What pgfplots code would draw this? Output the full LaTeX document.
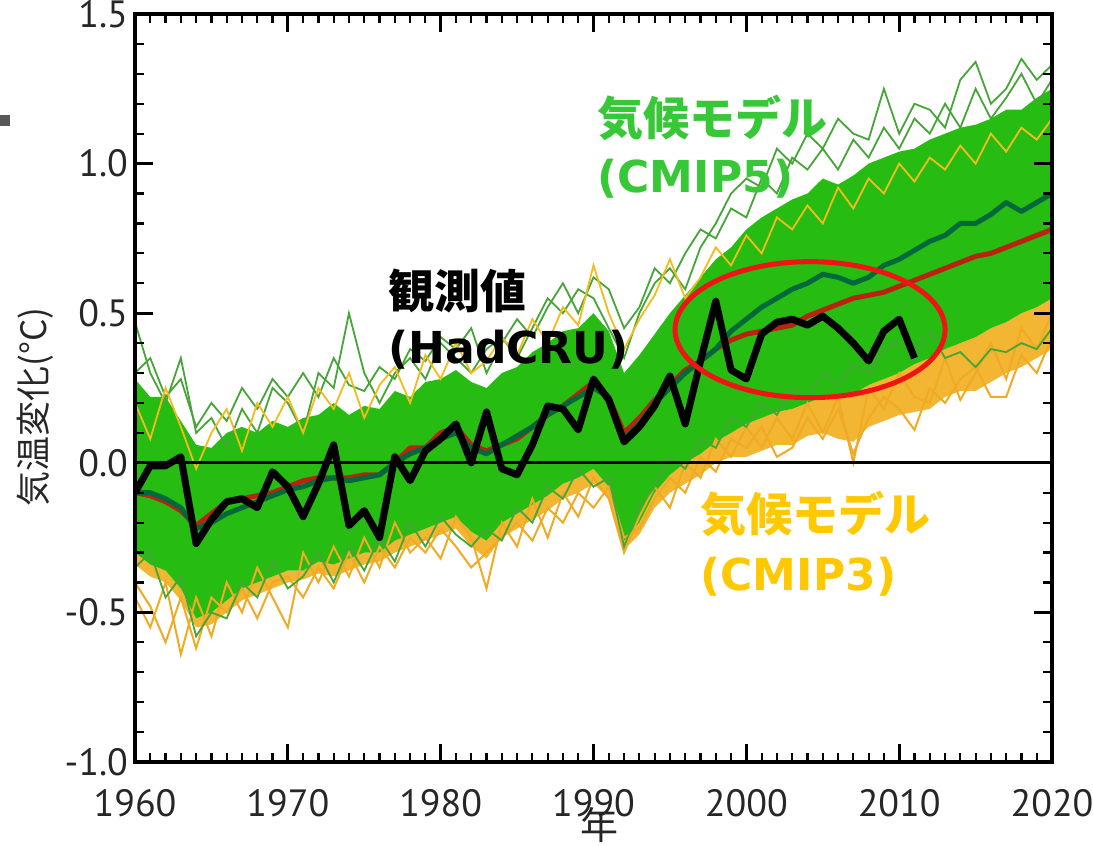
\documentclass[border=0pt]{standalone}
\usepackage{fontspec}
\usepackage{pgfplots}
\usepackage{pgfplotstable}
\pgfplotsset{compat=1.18}
\usepgfplotslibrary{fillbetween}
\newfontfamily\cjk{Noto Sans CJK JP}
\newfontfamily\dvs{DejaVu Sans}
\newfontfamily\ptsans{PT Sans}
\definecolor{bandgreen}{RGB}{38,188,18}
\definecolor{linegreen}{RGB}{70,165,55}
\definecolor{cmiporange}{RGB}{240,170,35}
\definecolor{bandorange}{RGB}{242,182,50}
\definecolor{meangreen}{RGB}{0,105,60}
\definecolor{meanred}{RGB}{185,35,15}
\definecolor{ellred}{RGB}{240,20,20}
\definecolor{txtgreen}{RGB}{55,200,55}
\definecolor{txtorange}{RGB}{255,200,0}

\pgfplotstableread{
yr gU gL oL g1 g2 g3 o1 o2 o3 m5 m3
1960 0.28 -0.30 -0.34 0.47 -0.35 0.30 -0.45 0.20 -0.40 -0.10 -0.10
1961 0.22 -0.34 -0.38 0.30 -0.30 0.35 -0.55 0.08 -0.48 -0.10 -0.11
1962 0.22 -0.36 -0.40 0.20 -0.45 0.22 -0.40 0.25 -0.60 -0.12 -0.13
1963 0.14 -0.42 -0.46 0.35 -0.38 0.28 -0.64 0.12 -0.45 -0.15 -0.16
1964 0.06 -0.52 -0.55 0.10 -0.58 0.12 -0.45 -0.02 -0.62 -0.22 -0.21
1965 0.05 -0.50 -0.54 0.15 -0.50 0.20 -0.58 0.10 -0.45 -0.20 -0.17
1966 0.10 -0.46 -0.50 0.05 -0.52 0.14 -0.40 0.18 -0.50 -0.17 -0.13
1967 0.12 -0.42 -0.46 0.18 -0.40 0.25 -0.50 0.04 -0.42 -0.15 -0.12
1968 0.10 -0.40 -0.44 0.10 -0.45 0.18 -0.35 0.20 -0.52 -0.13 -0.11
1969 0.14 -0.38 -0.42 0.25 -0.33 0.28 -0.45 0.12 -0.40 -0.11 -0.10
1970 0.12 -0.36 -0.40 0.20 -0.42 0.22 -0.55 0.22 -0.38 -0.09 -0.08
1971 0.15 -0.36 -0.39 0.10 -0.38 0.30 -0.30 0.10 -0.45 -0.08 -0.06
1972 0.16 -0.33 -0.37 0.30 -0.30 0.22 -0.40 0.25 -0.35 -0.06 -0.05
1973 0.20 -0.34 -0.38 0.25 -0.40 0.35 -0.28 0.18 -0.42 -0.05 -0.05
1974 0.16 -0.32 -0.36 0.50 -0.28 0.26 -0.38 0.30 -0.30 -0.06 -0.05
1975 0.19 -0.30 -0.34 0.30 -0.36 0.24 -0.25 0.15 -0.40 -0.05 -0.04
1976 0.18 -0.30 -0.33 0.20 -0.25 0.32 -0.35 0.26 -0.28 -0.04 -0.04
1977 0.24 -0.26 -0.30 0.30 -0.33 0.28 -0.20 0.32 -0.35 0.00 0.00
1978 0.22 -0.24 -0.28 0.35 -0.20 0.38 -0.30 0.20 -0.25 0.03 0.05
1979 0.27 -0.22 -0.26 0.28 -0.28 0.34 -0.25 0.36 -0.30 0.05 0.05
1980 0.28 -0.20 -0.24 0.40 -0.18 0.42 -0.32 0.28 -0.22 0.08 0.10
1981 0.31 -0.18 -0.22 0.35 -0.24 0.38 -0.18 0.40 -0.28 0.10 0.12
1982 0.27 -0.23 -0.28 0.30 -0.28 0.45 -0.25 0.30 -0.35 0.05 0.06
1983 0.25 -0.26 -0.32 0.38 -0.22 0.30 -0.42 0.34 -0.30 0.03 0.04
1984 0.30 -0.20 -0.25 0.42 -0.26 0.40 -0.20 0.42 -0.25 0.06 0.06
1985 0.32 -0.17 -0.22 0.35 -0.15 0.48 -0.28 0.36 -0.20 0.09 0.08
1986 0.37 -0.14 -0.19 0.45 -0.20 0.42 -0.12 0.48 -0.26 0.12 0.12
1987 0.40 -0.11 -0.16 0.55 -0.08 0.52 -0.25 0.40 -0.15 0.16 0.16
1988 0.44 -0.07 -0.12 0.50 -0.12 0.60 -0.10 0.52 -0.20 0.19 0.19
1989 0.45 -0.05 -0.10 0.58 -0.02 0.50 -0.18 0.46 -0.10 0.22 0.23
1990 0.50 -0.02 -0.07 0.55 -0.08 0.62 -0.05 0.66 -0.15 0.25 0.27
1991 0.44 -0.08 -0.12 0.45 -0.05 0.58 -0.12 0.50 -0.08 0.22 0.22
1992 0.30 -0.26 -0.29 0.35 -0.28 0.45 -0.30 0.38 -0.25 0.08 0.10
1993 0.36 -0.20 -0.24 0.50 -0.15 0.52 -0.18 0.48 -0.22 0.13 0.15
1994 0.43 -0.10 -0.15 0.60 -0.08 0.65 -0.08 0.56 -0.12 0.20 0.21
1995 0.50 -0.04 -0.10 0.65 0.02 0.60 -0.15 0.68 -0.05 0.25 0.26
1996 0.56 0.00 -0.07 0.58 -0.02 0.70 0.00 0.55 -0.10 0.30 0.31
1997 0.62 0.03 -0.04 0.72 0.08 0.78 -0.05 0.62 0.02 0.34 0.34
1998 0.68 0.07 0.00 0.80 0.05 0.75 0.08 0.72 -0.03 0.38 0.38
1999 0.72 0.10 0.02 0.90 0.15 0.85 0.02 0.66 0.08 0.44 0.41
2000 0.78 0.13 0.02 0.95 0.12 0.82 0.12 0.76 0.05 0.48 0.43
2001 0.82 0.15 0.04 0.92 0.20 0.95 0.05 0.70 0.12 0.52 0.44
2002 0.85 0.17 0.06 1.05 0.16 0.90 0.15 0.82 0.02 0.55 0.45
2003 0.88 0.18 0.06 1.00 0.25 1.02 0.08 0.78 0.05 0.58 0.46
2004 0.90 0.20 0.09 1.10 0.22 0.98 0.20 0.86 0.15 0.60 0.49
2005 0.95 0.22 0.10 1.05 0.30 1.05 0.10 0.80 0.08 0.63 0.51
2006 0.93 0.22 0.08 1.15 0.26 0.98 0.22 0.92 0.18 0.62 0.53
2007 0.96 0.23 0.07 1.10 0.33 1.08 0.00 0.85 0.03 0.60 0.55
2008 1.00 0.26 0.12 1.08 0.30 1.02 0.25 0.95 0.15 0.62 0.56
2009 1.02 0.28 0.14 1.25 0.38 1.12 0.18 0.90 0.22 0.66 0.57
2010 1.04 0.30 0.16 1.10 0.40 1.05 0.30 1.00 0.18 0.68 0.59
2011 1.05 0.33 0.17 1.20 0.36 1.15 0.22 0.94 0.11 0.71 0.61
2012 1.08 0.35 0.18 1.18 0.44 1.10 0.20 1.02 0.25 0.74 0.63
2013 1.10 0.38 0.22 1.12 0.35 1.20 0.35 0.98 0.20 0.76 0.65
2014 1.12 0.40 0.24 1.28 0.37 1.12 0.21 1.06 0.28 0.80 0.67
2015 1.13 0.42 0.24 1.34 0.32 1.25 0.30 1.00 0.32 0.80 0.69
2016 1.15 0.45 0.27 1.20 0.38 1.15 0.40 1.10 0.22 0.83 0.70
2017 1.18 0.47 0.30 1.25 0.37 1.22 0.28 1.04 0.22 0.87 0.72
2018 1.18 0.50 0.32 1.35 0.40 1.30 0.45 1.12 0.36 0.84 0.74
2019 1.22 0.52 0.35 1.28 0.38 1.20 0.38 1.08 0.30 0.87 0.76
2020 1.25 0.55 0.38 1.33 0.45 1.28 0.50 1.15 0.42 0.90 0.78
}\models

\pgfplotstableread{
yr obs
1960 -0.10
1961 -0.01
1962 -0.01
1963 0.02
1964 -0.27
1965 -0.19
1966 -0.13
1967 -0.12
1968 -0.15
1969 -0.03
1970 -0.08
1971 -0.18
1972 -0.07
1973 0.06
1974 -0.21
1975 -0.16
1976 -0.25
1977 0.02
1978 -0.06
1979 0.04
1980 0.08
1981 0.13
1982 0.00
1983 0.17
1984 -0.02
1985 -0.04
1986 0.06
1987 0.19
1988 0.18
1989 0.11
1990 0.28
1991 0.21
1992 0.07
1993 0.12
1994 0.19
1995 0.29
1996 0.13
1997 0.34
1998 0.54
1999 0.31
2000 0.28
2001 0.43
2002 0.47
2003 0.48
2004 0.46
2005 0.49
2006 0.45
2007 0.40
2008 0.34
2009 0.44
2010 0.48
2011 0.35
}\obsdata

\begin{document}
\begin{tikzpicture}
\begin{axis}[
  scale only axis, width=458.5pt, height=374pt,
  xmin=1960, xmax=2020, ymin=-1, ymax=1.5,
  xtick={1960,1970,1980,1990,2000,2010,2020},
  ytick={-1,-0.5,0,0.5,1,1.5},
  minor x tick num=9, minor y tick num=4,
  x tick label style={/pgf/number format/1000 sep={}, yshift=-10pt},
  y tick label style={/pgf/number format/.cd, fixed, fixed zerofill, precision=1},
  /pgf/number format/assume math mode=true,
  tick label style={font=\ptsans\fontsize{19}{19}\selectfont, text=black!85},
  axis line style={line width=2pt},
  major tick length=9pt, minor tick length=4.5pt,
  major tick style={line width=1.5pt, black},
  minor tick style={line width=1.1pt, black},
  axis on top,
  xlabel={\cjk 年},
  ylabel={\cjk 気温変化(°C)},
  xlabel style={font=\fontsize{19}{19}\selectfont, at={(axis description cs:0.507,-0.084)}, anchor=center, text=black!85},
  ylabel style={font=\fontsize{17.5}{17.5}\selectfont, at={(axis description cs:-0.109,0.475)}, anchor=center, text=black!85},
]
\addplot[name path=gu, draw=none] table[x=yr, y=gU]{\models};
\addplot[name path=gl, draw=none] table[x=yr, y=gL]{\models};
\addplot[name path=ol, draw=none] table[x=yr, y=oL]{\models};
\addplot[bandorange] fill between[of=gl and ol];
\addplot[bandgreen] fill between[of=gu and gl];

\addplot[cmiporange, line width=1pt] table[x=yr, y=o1]{\models};
\addplot[cmiporange, line width=1pt] table[x=yr, y=o3]{\models};
\addplot[linegreen, line width=0.9pt] table[x=yr, y=g2]{\models};
\addplot[linegreen, line width=0.9pt] table[x=yr, y=g1]{\models};
\addplot[linegreen, line width=0.9pt] table[x=yr, y=g3]{\models};
\addplot[cmiporange!80!yellow, line width=0.9pt] table[x=yr, y=o2]{\models};

\addplot[black, line width=1.5pt] coordinates {(1960,0) (2020,0)};

\addplot[meanred, line width=2.5pt, line join=round] table[x=yr, y=m3]{\models};
\addplot[meangreen, line width=2.5pt, line join=round] table[x=yr, y=m5]{\models};
\addplot[black, line width=3.5pt, line join=round] table[x=yr, y=obs]{\obsdata};

\draw[ellred, line width=2.5pt] (axis cs:2004.17,0.445) ellipse [x radius=67.5pt, y radius=34pt];

\node[anchor=west, inner sep=0pt, text=black, font=\cjk\bfseries\fontsize{23}{23}\selectfont] at (axis cs:1976.56,0.575) {観測値};
\node[anchor=west, inner sep=0pt, text=black, font=\dvs\bfseries\fontsize{22}{22}\selectfont] at (axis cs:1976.56,0.378) {(HadCRU)};
\node[anchor=west, inner sep=0pt, text=txtgreen, font=\cjk\bfseries\fontsize{23}{23}\selectfont] at (axis cs:1990.24,1.154) {気候モデル};
\node[anchor=west, inner sep=0pt, text=txtgreen, font=\dvs\bfseries\fontsize{22}{22}\selectfont] at (axis cs:1990.24,0.95) {(CMIP5)};
\node[anchor=west, inner sep=0pt, text=txtorange, font=\cjk\bfseries\fontsize{23}{23}\selectfont] at (axis cs:1996.98,-0.17) {気候モデル};
\node[anchor=west, inner sep=0pt, text=txtorange, font=\dvs\bfseries\fontsize{22}{22}\selectfont] at (axis cs:1996.98,-0.38) {(CMIP3)};

\coordinate (SW) at (rel axis cs:0,0);
\coordinate (NE) at (rel axis cs:1,1);
\end{axis}
\fill[black!65] ([shift={(-67.5pt,318pt)}]SW) rectangle +(5pt,5.5pt);
\pgfresetboundingbox
\useasboundingbox ([shift={(-67.5pt,-41.5pt)}]SW) rectangle ([shift={(20.5pt,7pt)}]NE);
\end{tikzpicture}
\end{document}
